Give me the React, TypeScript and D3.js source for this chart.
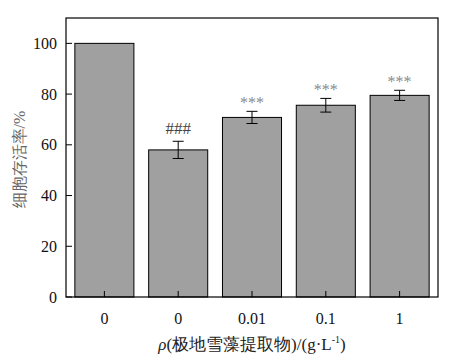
import React from "react";
import * as d3 from "d3";

const categories = ["0", "0", "0.01", "0.1", "1"];
const values = [100, 58, 70.8, 75.6, 79.5];
const errors = [0, 3.4, 2.4, 2.7, 2.0];
const marks = ["", "###", "***", "***", "***"];
const yTicks = [0, 20, 40, 60, 80, 100];

const W = 462, H = 360;
const left = 66, right = 438, top = 18, bottom = 297;

export default function App() {
  const x = d3.scaleBand<number>().domain(d3.range(categories.length)).range([left, right]).paddingInner(0.2).paddingOuter(0.12);
  const y = d3.scaleLinear().domain([0, 110]).range([bottom, top]);
  const font = "'Liberation Serif', 'Times New Roman', serif";
  return (
    <svg width={W} height={H} style={{ position: "absolute", left: 0, top: 0 }}>
      <rect x={0} y={0} width={W} height={H} fill="#fff" />
      {values.map((v, i) => {
        const bx = x(i)!;
        const cx = bx + x.bandwidth() / 2;
        return (
          <g key={i}>
            <rect x={bx} y={y(v)} width={x.bandwidth()} height={bottom - y(v)} fill="#a0a0a0" stroke="#000" strokeWidth={1} />
            <line x1={cx} x2={cx} y1={bottom} y2={bottom - 6} stroke="#000" />
            {errors[i] > 0 && (
              <g stroke="#000" strokeWidth={1}>
                <line x1={cx} x2={cx} y1={y(v + errors[i])} y2={y(v - errors[i])} />
                <line x1={cx - 5.5} x2={cx + 5.5} y1={y(v + errors[i])} y2={y(v + errors[i])} />
                <line x1={cx - 5.5} x2={cx + 5.5} y1={y(v - errors[i])} y2={y(v - errors[i])} />
              </g>
            )}
            {marks[i] && (
              <text x={cx} y={y(v + errors[i]) - (marks[i] === "###" ? 7 : 3)} textAnchor="middle" fontFamily={font} fontSize={marks[i] === "###" ? 17 : 16}
                fill={marks[i] === "###" ? "#444" : "#8a8a8a"}>{marks[i]}</text>
            )}
            <text x={cx} y={324} textAnchor="middle" fontFamily={font} fontSize={16} fill="#111">{categories[i]}</text>
          </g>
        );
      })}
      <rect x={left} y={top} width={right - left} height={bottom - top} fill="none" stroke="#000" strokeWidth={1.2} />
      {yTicks.map(t => (
        <g key={t}>
          <line x1={left} x2={left + 6} y1={y(t)} y2={y(t)} stroke="#000" />
          <text x={left - 9} y={y(t)} dy="0.35em" textAnchor="end" fontFamily={font} fontSize={16} fill="#111">{t}</text>
        </g>
      ))}
      <text transform={`translate(25,${(top + bottom) / 2 + 2}) rotate(-90)`} textAnchor="middle" fontFamily={font} fontSize={16} fill="#666">细胞存活率/%</text>
      <text x={(left + right) / 2} y={350} textAnchor="middle" fontFamily={font} fontSize={17} fill="#222">
        <tspan fontStyle="italic">ρ</tspan>(极地雪藻提取物)/(g·L<tspan fontSize={10} dy={-7}>-1</tspan><tspan dy={7}>)</tspan>
      </text>
    </svg>
  );
}
